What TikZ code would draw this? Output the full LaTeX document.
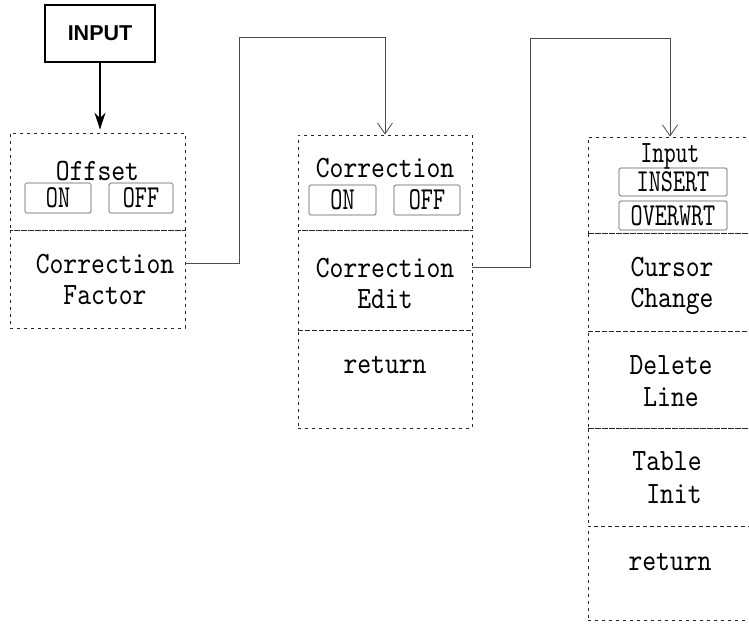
\documentclass[tikz,border=0pt]{standalone}
\usepackage{fontspec}
\setsansfont{Liberation Sans}
\newfontfamily\menufont[FakeStretch=0.85]{lmmono10-regular.otf}
\newfontfamily\keyfont[FakeStretch=0.72]{lmmono10-regular.otf}
\usetikzlibrary{arrows.meta}

\begin{document}
\begin{tikzpicture}[x=1pt,y=-1pt,line width=.8pt,
  cell/.style={draw=black!85,dash pattern=on 3pt off 4pt,inner sep=0pt},
  lbl/.style={anchor=base,inner sep=0pt,align=center,font=\menufont\fontsize{31}{31}\selectfont},
  hdr/.style={anchor=base,inner sep=0pt,font=\keyfont\fontsize{31}{31}\selectfont},
  key/.style={draw=black!65,line width=.7pt,rounded corners=1.5pt,inner sep=0pt,
    minimum height=30pt,font=\keyfont\fontsize{32}{32}\selectfont},
  link/.style={draw=black!70,line width=.8pt,-{Straight Barb[length=11pt,width=15pt]}}]
\useasboundingbox (0,0) rectangle (749,624);

% entry key
\node[draw,line width=2pt,minimum width=110pt,minimum height=57pt,inner sep=0pt,
  font=\sffamily\bfseries\fontsize{21.5}{21.5}\selectfont] (inkey) at (100,33.5) {INPUT};

% first menu
\node[cell,minimum width=175pt,minimum height=97pt] (ofs) at (97.5,181.5) {};
\node[cell,minimum width=175pt,minimum height=98pt] (cfac) at (97.5,279) {};
\node[lbl] (ofst) at (97.5,180) {Offset};
\node[key,minimum width=66pt] (ofson) at (58,198) {ON};
\node[key,minimum width=64pt] (ofsoff) at (141,198) {OFF};
\node[lbl] (cfa) at (105,304) {Correction\\Factor};

% second menu
\node[cell,minimum width=174pt,minimum height=95pt] (corr) at (385,182.5) {};
\node[cell,minimum width=174pt,minimum height=100pt] (cedit) at (385,280) {};
\node[cell,minimum width=174pt,minimum height=98pt] (ret1) at (385,379) {};
\node[lbl] (corrt) at (385,177) {Correction};
\node[key,minimum width=67pt] (corron) at (342.5,200) {ON};
\node[key,minimum width=66pt] (corroff) at (427,200) {OFF};
\node[lbl] (cea) at (385,308) {Correction\\Edit};
\node[lbl] (ret1t) at (385,373) {return};

% third menu
\node[cell,minimum width=164pt,minimum height=96pt] (inp) at (670,185) {};
\node[cell,minimum width=164pt,minimum height=98pt] (cur) at (670,282) {};
\node[cell,minimum width=164pt,minimum height=97pt] (del) at (670,379.5) {};
\node[cell,minimum width=164pt,minimum height=98pt] (tbl) at (670,477) {};
\node[cell,minimum width=164pt,minimum height=94pt] (ret2) at (670,573) {};
\node[hdr] (inpt) at (670,162) {Input};
\node[key,minimum width=108pt,minimum height=28pt] (ins) at (673,182) {INSERT};
\node[key,minimum width=108pt,minimum height=29pt] (ovw) at (673,215.5) {OVERWRT};
\node[lbl] (cura) at (672,307) {Cursor\\Change};
\node[lbl] (dela) at (671,406) {Delete\\[1pt]Line};
\node[lbl] (tbla) at (667,503) {Table\\[2pt]~Init};
\node[lbl] (ret2t) at (670,570) {return};

% connectors
\coordinate (bend1) at (239,37);
\coordinate (bend2) at (530,38);
\draw[line width=2pt,-{Stealth[length=17pt,width=11pt]},shorten >=3pt]
  (inkey.south) -- (inkey.south |- ofs.north);
\draw[link] (cfac.east |- cfa.north) ++(0,10) -| (bend1) -| (corr.north);
\draw[link] (cedit.east |- cea.north) ++(0,10) -| (bend2) -| (inp.north);
\end{tikzpicture}
\end{document}
